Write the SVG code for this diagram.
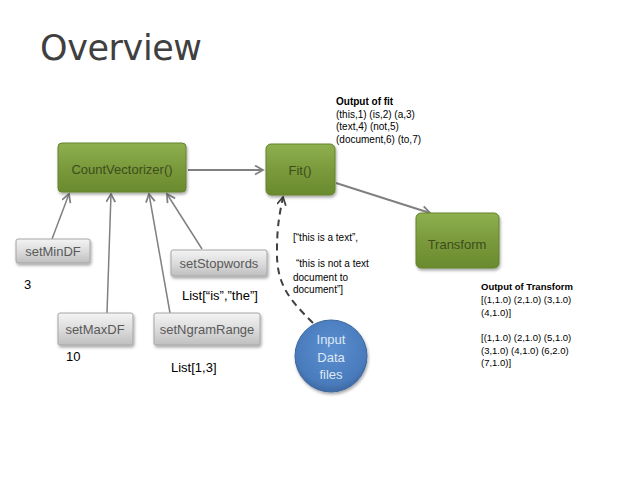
<svg xmlns="http://www.w3.org/2000/svg" width="638" height="479" viewBox="0 0 638 479">
<defs>
<linearGradient id="gGreen" x1="0" y1="0" x2="0" y2="1">
<stop offset="0" stop-color="#8fb04f"/>
<stop offset="0.5" stop-color="#7a9a3c"/>
<stop offset="1" stop-color="#6a8a2e"/>
</linearGradient>
<linearGradient id="gGray" x1="0" y1="0" x2="0" y2="1">
<stop offset="0" stop-color="#f4f4f4"/>
<stop offset="0.5" stop-color="#dcdcdc"/>
<stop offset="1" stop-color="#bfbfbf"/>
</linearGradient>
<radialGradient id="gBlue" cx="0.5" cy="0.4" r="0.6">
<stop offset="0" stop-color="#5b8fd0"/>
<stop offset="0.8" stop-color="#4a7cbd"/>
<stop offset="1" stop-color="#3e6aa3"/>
</radialGradient>
<filter id="sh" x="-20%" y="-20%" width="140%" height="150%">
<feDropShadow dx="1" dy="2" stdDeviation="1.5" flood-color="#000" flood-opacity="0.35"/>
</filter>
<marker id="ah" markerWidth="12" markerHeight="12" refX="9" refY="5" orient="auto" markerUnits="userSpaceOnUse">
<path d="M1,0.5 L9,5 L1,9.5" fill="none" stroke="#808080" stroke-width="1.8"/>
</marker>
<marker id="ahd" markerWidth="12" markerHeight="12" refX="9" refY="5" orient="auto" markerUnits="userSpaceOnUse">
<path d="M1,0.5 L9,5 L1,9.5" fill="none" stroke="#404040" stroke-width="1.8"/>
</marker>
<style>
.green{fill:url(#gGreen);stroke:#64832c;stroke-width:1;filter:url(#sh)}
.gray{fill:url(#gGray);stroke:#a6a6a6;stroke-width:1;filter:url(#sh)}
.gt{font-family:"Liberation Sans",Arial,sans-serif;font-size:13px;fill:#3d4d1c;text-anchor:middle}
.bt{font-family:"Liberation Sans",Arial,sans-serif;font-size:13px;fill:#595959;text-anchor:middle}
.lab{font-family:"Liberation Sans",Arial,sans-serif;font-size:13px;fill:#000}
.sm{font-family:"Liberation Sans",Arial,sans-serif;font-size:10px;fill:#000}
.smb{font-family:"Liberation Sans",Arial,sans-serif;font-size:9.5px;fill:#000}
.b{font-weight:bold}
.conn{stroke:#808080;fill:none}
</style>
</defs>
<rect width="638" height="479" fill="#fff"/>
<text x="40" y="60" font-family="'DejaVu Sans',sans-serif" font-size="35" fill="#404040" textLength="162">Overview</text>

<g id="connectors">
<line class="conn" x1="188" y1="170" x2="263" y2="170" stroke-width="2" marker-end="url(#ah)"/>
<line class="conn" x1="336" y1="183" x2="430" y2="213" stroke-width="2" marker-end="url(#ah)"/>
<line class="conn" x1="52" y1="239" x2="69" y2="194" stroke-width="1.5" marker-end="url(#ah)"/>
<line class="conn" x1="107" y1="313" x2="111" y2="194" stroke-width="1.5" marker-end="url(#ah)"/>
<line class="conn" x1="170" y1="313" x2="149" y2="194" stroke-width="1.5" marker-end="url(#ah)"/>
<line class="conn" x1="202" y1="249" x2="167" y2="194" stroke-width="1.5" marker-end="url(#ah)"/>
<path d="M313,323 C290,300 276,285 277,250 C277,225 280,212 283,197" fill="none" stroke="#404040" stroke-width="2" stroke-dasharray="7,5" marker-end="url(#ahd)"/>
</g>

<g id="countvectorizer">
<rect class="green" x="58" y="143" width="128" height="49" rx="4"/>
<text class="gt" x="122" y="174">CountVectorizer()</text>
</g>
<g id="fit">
<rect class="green" x="266" y="144" width="69" height="51" rx="5"/>
<text class="gt" x="300" y="175">Fit()</text>
</g>
<g id="transform">
<rect class="green" x="416" y="213" width="83" height="55" rx="5"/>
<text class="gt" x="457" y="249">Transform</text>
</g>

<g id="setMinDF">
<rect class="gray" x="16" y="239" width="74" height="24" rx="2"/>
<text class="bt" x="53" y="256">setMinDF</text>
</g>
<g id="setStopwords">
<rect class="gray" x="171" y="250" width="96" height="26" rx="2"/>
<text class="bt" x="219" y="268">setStopwords</text>
</g>
<g id="setMaxDF">
<rect class="gray" x="58" y="313" width="75" height="32" rx="2"/>
<text class="bt" x="95" y="334">setMaxDF</text>
</g>
<g id="setNgramRange">
<rect class="gray" x="154" y="313" width="106" height="32" rx="2"/>
<text class="bt" x="207" y="334">setNgramRange</text>
</g>

<g id="inputData">
<ellipse cx="331" cy="356" rx="36" ry="36" fill="url(#gBlue)" stroke="#3d67a0" stroke-width="1" filter="url(#sh)"/>
<text class="bt" x="331" y="344" fill="#dfe8f5" style="fill:#dfe8f5">Input</text>
<text class="bt" x="331" y="362" style="fill:#dfe8f5">Data</text>
<text class="bt" x="331" y="379" style="fill:#dfe8f5">files</text>
</g>

<g id="labels">
<text class="lab" x="24" y="289">3</text>
<text class="lab" x="66" y="361">10</text>
<text class="lab" x="182" y="300">List[“is”,”the”]</text>
<text class="lab" x="171" y="372">List[1,3]</text>

<text class="sm b" x="336" y="105">Output of fit</text>
<text class="sm" x="336" y="118">(this,1) (is,2) (a,3)</text>
<text class="sm" x="336" y="130">(text,4) (not,5)</text>
<text class="sm" x="336" y="143">(document,6) (to,7)</text>

<text class="sm" x="293" y="241">[“this is a text”,</text>
<text class="sm" x="296" y="267">“this is not a text</text>
<text class="sm" x="293" y="281">document to</text>
<text class="sm" x="293" y="293">document”]</text>

<text class="smb b" x="481" y="290">Output of Transform</text>
<text class="smb" x="481" y="303">[(1,1.0) (2,1.0) (3,1.0)</text>
<text class="smb" x="481" y="316">(4,1.0)]</text>
<text class="smb" x="481" y="341">[(1,1.0) (2,1.0) (5,1.0)</text>
<text class="smb" x="481" y="354">(3,1.0) (4,1.0) (6,2.0)</text>
<text class="smb" x="481" y="366">(7,1.0)]</text>
</g>
</svg>
